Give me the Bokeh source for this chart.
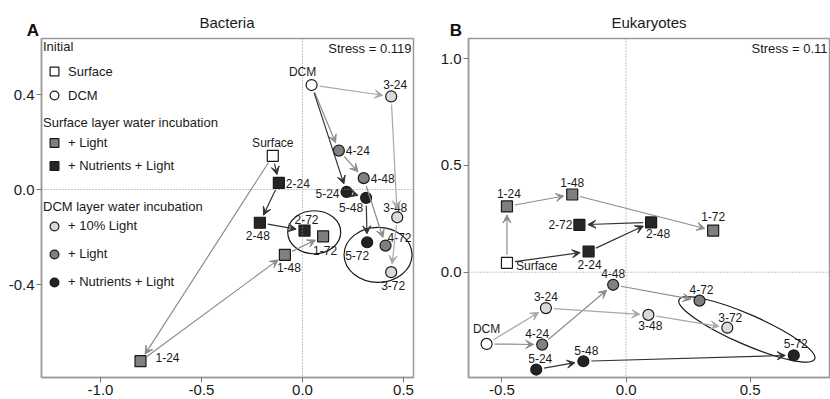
import math
from bokeh.plotting import figure
from bokeh.layouts import row, column
from bokeh.models import (Range1d, FixedTicker, NumeralTickFormatter, Span, Arrow, VeeHead,
                          Label, Legend, LegendItem, ColumnDataSource, Div)
from bokeh.core.properties import value
from bokeh.embed import file_html
from bokeh.resources import INLINE

FONT = "Liberation Sans"

# ---------------- data: panel A (Bacteria) ----------------
a_labels = ["Surface", "DCM", "1-24", "1-48", "1-72", "2-24", "2-48", "2-72",
            "3-24", "3-48", "3-72", "4-24", "4-48", "4-72", "5-24", "5-48", "5-72"]
a_x = [-0.147, 0.045, -0.802, -0.087, 0.102, -0.117, -0.211, 0.010,
       0.439, 0.469, 0.439, 0.180, 0.303, 0.411, 0.218, 0.315, 0.320]
a_y = [0.142, 0.440, -0.723, -0.275, -0.197, 0.028, -0.140, -0.173,
       0.392, -0.117, -0.348, 0.164, 0.048, -0.236, -0.010, -0.035, -0.222]
a_arrows = [("Surface", "1-24"), ("1-24", "1-48"), ("1-48", "1-72"),
            ("Surface", "2-24"), ("2-24", "2-48"), ("2-48", "2-72"),
            ("DCM", "3-24"), ("3-24", "3-48"), ("3-48", "3-72"),
            ("DCM", "4-24"), ("4-24", "4-48"), ("4-48", "4-72"),
            ("DCM", "5-24"), ("5-24", "5-48"), ("5-48", "5-72")]
a_ell_x = [0.058, 0.374]
a_ell_y = [-0.180, -0.275]
a_stress = "Stress = 0.119"

# ---------------- data: panel B (Eukaryotes) ----------------
b_labels = ["Surface", "DCM", "1-24", "1-48", "1-72", "2-24", "2-48", "2-72",
            "3-24", "3-48", "3-72", "4-24", "4-48", "4-72", "5-24", "5-48", "5-72"]
b_x = [-0.480, -0.562, -0.480, -0.217, 0.351, -0.151, 0.101, -0.188,
       -0.323, 0.090, 0.408, -0.338, -0.052, 0.296, -0.362, -0.172, 0.676]
b_y = [0.044, -0.336, 0.308, 0.364, 0.195, 0.097, 0.233, 0.222,
       -0.168, -0.200, -0.260, -0.339, -0.059, -0.133, -0.456, -0.417, -0.389]
b_arrows = [("Surface", "1-24"), ("1-24", "1-48"), ("1-48", "1-72"),
            ("Surface", "2-24"), ("2-24", "2-48"), ("2-48", "2-72"),
            ("DCM", "3-24"), ("3-24", "3-48"), ("3-48", "3-72"),
            ("DCM", "4-24"), ("4-24", "4-48"), ("4-48", "4-72"),
            ("5-24", "5-48"), ("5-48", "5-72")]
b_ell_x = [0.487]
b_ell_y = [-0.268]
b_stress = "Stress = 0.11"

# ---------------- styles / layout ----------------
GROUP_STYLE = {
    "Surface": dict(marker="square", fill="#ffffff"),
    "DCM": dict(marker="circle", fill="#ffffff"),
    "1": dict(marker="square", fill="#7f7f7f"),
    "2": dict(marker="square", fill="#262626"),
    "3": dict(marker="circle", fill="#dadada"),
    "4": dict(marker="circle", fill="#808080"),
    "5": dict(marker="circle", fill="#232323"),
}
ARROW_COLOR = {"1": "#8c8c8c", "2": "#333333", "3": "#a8a8a8", "4": "#8c8c8c", "5": "#333333"}

# label placement (dx, dy in px, align)
A_LAB = {"Surface": (0, -13, "center"), "DCM": (-9, -13, "center"), "1-24": (15, -4, "left"),
         "1-48": (4, 13, "center"), "1-72": (2, 14, "center"), "2-24": (7, 1, "left"),
         "2-48": (-2, 13, "center"), "2-72": (2, -11, "center"), "3-24": (4, -12, "center"),
         "3-48": (-2, -10, "center"), "3-72": (2, 13, "center"), "4-24": (7, 0, "left"),
         "4-48": (7, 0, "left"), "4-72": (2, -8, "left"), "5-24": (-7, 2, "right"),
         "5-48": (-3, 10, "right"), "5-72": (-10, 13, "center")}
B_LAB = {"Surface": (9, 3, "left"), "DCM": (0, -15, "center"), "1-24": (2, -13, "center"),
         "1-48": (0, -12, "center"), "1-72": (0, -14, "center"), "2-24": (1, 13, "center"),
         "2-48": (7, 11, "center"), "2-72": (-7, 0, "right"), "3-24": (0, -12, "center"),
         "3-48": (2, 11, "center"), "3-72": (3, -10, "center"), "4-24": (-5, -11, "center"),
         "4-48": (0, -11, "center"), "4-72": (2, -11, "center"), "5-24": (4, -11, "center"),
         "5-48": (3, -11, "center"), "5-72": (2, -12, "center")}

H_TOTAL = 399
HEADER_H = 37


def group_of(lbl):
    return lbl if lbl in ("Surface", "DCM") else lbl.split("-")[0]


def make_header(width, mb_left, mb_right, title, letter, letter_x):
    fx = mb_left + (width - mb_left - mb_right) / 2.0
    html = (
        f'<div style="position:relative;width:{width}px;height:{HEADER_H}px;'
        f"font-family:'Liberation Sans',Arial,sans-serif;color:#1a1a1a;overflow:visible;\">"
        f'<span style="position:absolute;left:{fx}px;top:22px;transform:translate(-50%,-50%);'
        f'font-size:15px;line-height:17px;white-space:nowrap;">{title}</span>'
        f'<span style="position:absolute;left:{letter_x}px;top:30px;transform:translate(-50%,-50%);'
        f'font-size:17px;line-height:19px;font-weight:bold;color:#111111;">{letter}</span></div>'
    )
    return Div(text=html, width=width, height=HEADER_H, margin=0)


def make_panel(labels, xs, ys, arrows, lab_pos, xr, yr, xticks, yticks,
               width, mb_left, mb_right, stress, stress_x, stress_align,
               ell_x, ell_y, ell_w, ell_h, ell_a, legend=False):
    H = H_TOTAL - HEADER_H
    mb_top, mb_bottom = 1, 22
    fw = width - mb_left - mb_right
    fh = H - mb_top - mb_bottom
    top0 = HEADER_H + mb_top  # canvas y of frame top
    p = figure(width=width, height=H, output_backend="svg", toolbar_location=None,
               x_range=Range1d(*xr), y_range=Range1d(*yr), title=None,
               min_border_left=mb_left, min_border_right=mb_right,
               min_border_top=mb_top, min_border_bottom=mb_bottom)
    p.grid.visible = False
    p.outline_line_color = "#9a9a9a"
    p.outline_line_width = 1.5
    p.background_fill_color = "white"
    p.border_fill_color = "white"
    p.xaxis.ticker = FixedTicker(ticks=xticks)
    p.yaxis.ticker = FixedTicker(ticks=yticks)
    for ax in (p.xaxis[0], p.yaxis[0]):
        ax.formatter = NumeralTickFormatter(format="0.0")
        ax.axis_line_color = "#9a9a9a"
        ax.axis_line_width = 1.5
        ax.major_tick_line_color = "#777777"
        ax.major_tick_out = 5
        ax.major_tick_in = 0
        ax.minor_tick_line_color = None
        ax.major_label_text_font = FONT
        ax.major_label_text_font_size = "15px"
        ax.major_label_text_color = "#1a1a1a"
        ax.major_label_standoff = 2

    p.add_layout(Span(location=0, dimension="height", line_color="#8a8a8a", line_dash="1 2", line_width=1))
    p.add_layout(Span(location=0, dimension="width", line_color="#8a8a8a", line_dash="1 2", line_width=1))

    kx = fw / (xr[1] - xr[0])
    ky = fh / (yr[1] - yr[0])
    pos = {l: (x, y) for l, x, y in zip(labels, xs, ys)}

    by_col = {}
    for a, b in arrows:
        c = ARROW_COLOR[group_of(b)]
        x0, y0 = pos[a]
        x1, y1 = pos[b]
        dxp, dyp = (x1 - x0) * kx, (y1 - y0) * ky
        L = math.hypot(dxp, dyp)
        ux, uy = dxp / L, dyp / L
        s0, s1 = 8.0, 8.5
        d = by_col.setdefault(c, dict(xs=[], ys=[], xe=[], ye=[]))
        d["xs"].append(x0 + ux * s0 / kx)
        d["ys"].append(y0 + uy * s0 / ky)
        d["xe"].append(x1 - ux * s1 / kx)
        d["ye"].append(y1 - uy * s1 / ky)
    for c, d in by_col.items():
        p.add_layout(Arrow(x_start="xs", y_start="ys", x_end="xe", y_end="ye",
                           source=ColumnDataSource(d), line_color=c, line_width=1.2,
                           end=VeeHead(size=8, line_color=c, fill_color=c, line_width=1)))

    p.ellipse(x=ell_x, y=ell_y, width=ell_w, height=ell_h, angle=ell_a,
              width_units="screen", height_units="screen",
              fill_color=None, line_color="#1a1a1a", line_width=1.2)

    rends = {}
    for g, st in GROUP_STYLE.items():
        idx = [i for i, l in enumerate(labels) if group_of(l) == g]
        src = ColumnDataSource(dict(x=[xs[i] for i in idx], y=[ys[i] for i in idx]))
        rends[g] = p.scatter("x", "y", source=src, marker=st["marker"], size=11,
                             fill_color=st["fill"], line_color="#1a1a1a", line_width=1.2)

    for al in ("left", "center", "right"):
        idx = [i for i, l in enumerate(labels) if lab_pos[l][2] == al]
        src = ColumnDataSource(dict(x=[xs[i] for i in idx], y=[ys[i] for i in idx],
                                    t=[labels[i] for i in idx],
                                    dx=[lab_pos[labels[i]][0] for i in idx],
                                    dy=[lab_pos[labels[i]][1] for i in idx]))
        p.text("x", "y", text="t", x_offset="dx", y_offset="dy", source=src,
               text_align=al, text_baseline="middle", text_font_size="12px",
               text_color="#1a1a1a", text_font=value(FONT))

    p.add_layout(Label(x=stress_x, y=fh - 9.5, x_units="screen", y_units="screen", text=stress,
                       text_font=FONT, text_font_size="13px", text_align=stress_align,
                       text_baseline="middle", text_color="#1a1a1a"))

    if legend:
        TITLE_H = 14.5

        def add_leg(title_txt, items, top, glyph_h, spacing, standoff):
            n = len(items)
            hgt = TITLE_H + standoff + n * glyph_h + (n - 1) * spacing
            ybot = fh - (top - top0) - hgt
            leg = Legend(title=title_txt,
                         items=[LegendItem(label=lab, renderers=[rends[g]]) for lab, g in items],
                         location=(2, ybot), padding=0, margin=0, spacing=spacing,
                         title_standoff=standoff, glyph_width=22, glyph_height=glyph_h,
                         label_height=glyph_h, label_standoff=3,
                         background_fill_alpha=0, border_line_color=None,
                         label_text_font=FONT, label_text_font_size="13px",
                         label_text_color="#1a1a1a",
                         title_text_font=FONT, title_text_font_size="13px",
                         title_text_font_style="normal", title_text_color="#1a1a1a")
            p.add_layout(leg)

        add_leg("Initial", [("Surface", "Surface"), ("DCM", "DCM")], 39.75, 24, 0, 5)
        add_leg("Surface layer water incubation", [("+ Light", "1"), ("+ Nutrients + Light", "2")],
                115.75, 23, 0, 1)
        add_leg("DCM layer water incubation",
                [("+ 10% Light", "3"), ("+ Light", "4"), ("+ Nutrients + Light", "5")],
                199.25, 24, 4, 0)
    return p


ha = make_header(420, 41, 7, "Bacteria", "A", 33)
pa = make_panel(a_labels, a_x, a_y, a_arrows, A_LAB,
                (-1.292, 0.5495), (-0.7916, 0.636), [-1.0, -0.5, 0.0, 0.5], [-0.4, 0.0, 0.4],
                420, 41, 7, a_stress, 370, "right",
                a_ell_x, a_ell_y, [53, 68], [43, 55], [0, 0], legend=True)
hb = make_header(410, 48, 0, "Eukaryotes", "B", 36)
pb = make_panel(b_labels, b_x, b_y, b_arrows, B_LAB,
                (-0.635, 0.824), (-0.4932, 1.0946), [-0.5, 0.0, 0.5], [0.0, 0.5, 1.0],
                410, 48, 0, b_stress, 359, "right",
                b_ell_x, b_ell_y, [148], [30], [math.radians(-23.6)])

layout = row(column(ha, pa), column(hb, pb))
open("out.html", "w").write(file_html(layout, INLINE))
